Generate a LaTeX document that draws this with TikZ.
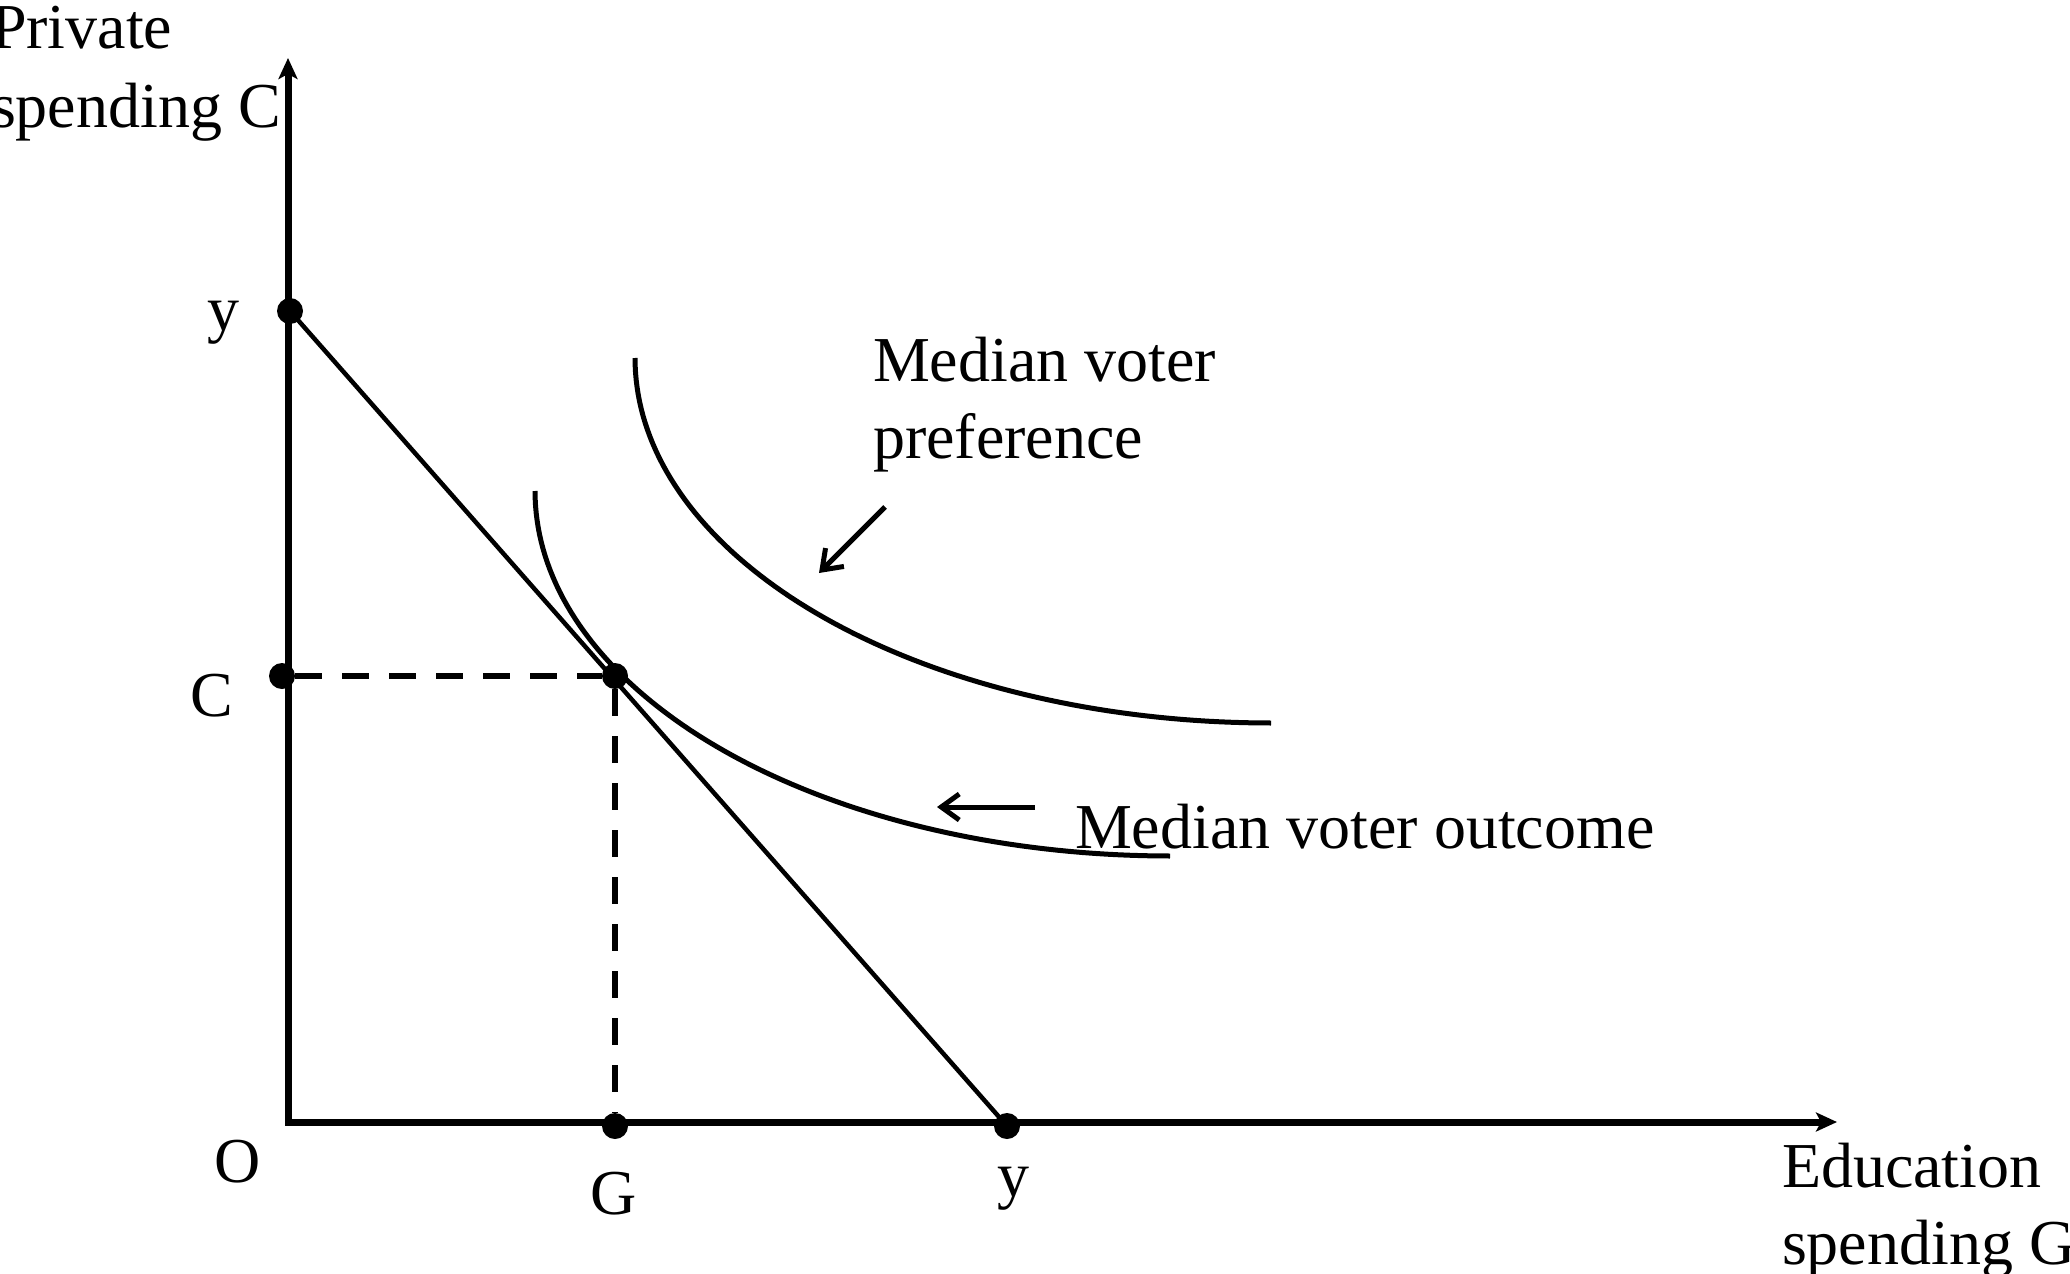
\documentclass[tikz,border=0pt]{standalone}
\usepackage{fontspec}
\setmainfont{Liberation Serif}
\usetikzlibrary{arrows.meta}
\begin{document}
\begin{tikzpicture}[x=1pt,y=-1pt,
  lbl/.style={font=\fontsize{64}{77}\selectfont, inner sep=0pt, outer sep=0pt},
  dot/.style={circle, fill=black, inner sep=0pt, minimum size=26pt},
  axisline/.style={line width=7pt, {Stealth[length=21pt,width=19pt,inset=5pt]}-{Stealth[length=21pt,width=19pt,inset=5pt]}},
  budget/.style={line width=4.5pt},
  curveline/.style={line width=5pt},
  dashline/.style={line width=6pt, dash pattern=on 27pt off 20pt},
  pointer/.style={line width=5pt, -{Straight Barb[length=18pt,width=26pt]}}
]
\useasboundingbox (0,0) rectangle (2070,1274);
% axes
\coordinate (ytip) at (288,58);
\coordinate (origin) at (288,1122);
\coordinate (xtip) at (1837,1122);
\draw[axisline] (ytip) -- (origin) -- (xtip);
% dots
\node[dot] (ydot) at (290,311) {};
\node[dot] (cdot) at (282,676) {};
\node[dot] (tdot) at (615,676) {};
\node[dot] (gdot) at (615,1126) {};
\node[dot] (yxdot) at (1007,1126) {};
% budget line
\draw[budget] (ydot.center) -- (yxdot.center);
% dashed guides
\draw[dashline] (cdot) -- (tdot);
\draw[dashline] (tdot) -- (gdot);
% indifference curves (quarter ellipses)
\draw[curveline] plot[domain=90:180, samples=80, variable=\t] ({1170+635*cos(\t)},{491+365*sin(\t)});
\draw[curveline] plot[domain=90:180, samples=80, variable=\t] ({1271+636*cos(\t)},{358+365*sin(\t)});
% pointer arrows
\coordinate (p1s) at (885,507);
\coordinate (p1e) at (819,573);
\draw[pointer] (p1s) -- (p1e);
\coordinate (p2s) at (1035,807);
\coordinate (p2e) at (937,807);
\draw[pointer] (p2s) -- (p2e);
% labels
\node[lbl, anchor=base] (ylab) at (223,330) {y};
\node[lbl, anchor=base] (clab) at (212,716) {C};
\node[lbl, anchor=base] (olab) at (238,1182) {O};
\node[lbl, anchor=base] (glab) at (614,1214) {G};
\node[lbl, anchor=base] (yxlab) at (1013,1196) {y};
\node[lbl, anchor=base west] (outlab) at (1075,848) {Median voter outcome};
\node[lbl, anchor=base west, align=left] (preflab) at (873,458) {Median voter\\preference};
\node[lbl, anchor=base west, align=left] (xlab) at (1782,1264) {Education\\spending G};
\node[lbl, anchor=base west, align=left, font=\fontsize{64}{79}\selectfont] (yaxlab) at (-9,127) {Private\\spending C};
\end{tikzpicture}
\end{document}
